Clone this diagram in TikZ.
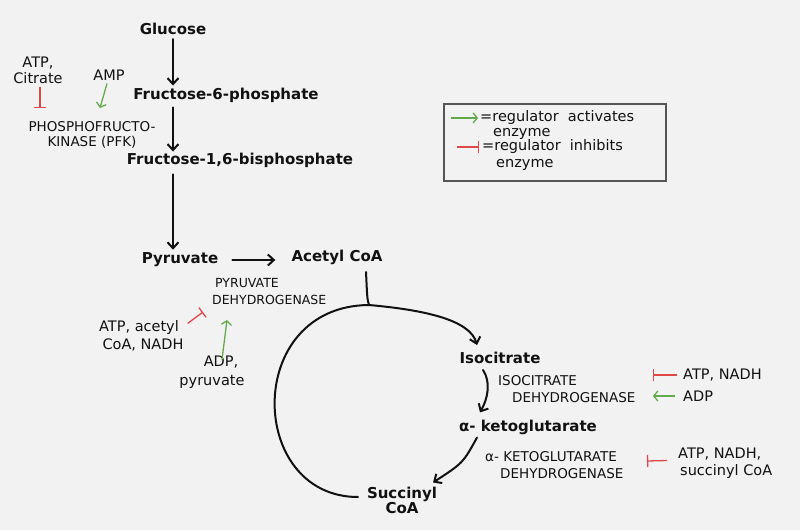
\documentclass[tikz,border=0pt]{standalone}
\usepackage{fontspec}
\setmainfont{DejaVu Sans}
\usetikzlibrary{arrows.meta}
\definecolor{bg}{HTML}{F2F2F2}
\definecolor{inkc}{HTML}{111111}
\definecolor{redc}{HTML}{E04848}
\definecolor{greenc}{HTML}{62AA4A}
\definecolor{boxc}{HTML}{555555}
\tikzset{
  met/.style={font=\bfseries\fontsize{15}{15}\selectfont, text=inkc, inner sep=0pt},
  capt/.style={font=\fontsize{13.5}{17}\selectfont, text=inkc, inner sep=0pt},
  lct/.style={font=\fontsize{14.5}{16}\selectfont, text=inkc, inner sep=0pt},
  flow/.style={draw=inkc, line width=2pt, line cap=round, -{Straight Barb[length=6pt,width=11pt]}},
  plain/.style={draw=inkc, line width=2pt, line cap=round},
  inh/.style={draw=redc, line width=1.3pt, -{Bar[width=12pt,line width=1.3pt]}},
  act/.style={draw=greenc, line width=1.3pt, -{Straight Barb[length=4pt,width=10pt,line width=1.3pt]}},
}
\begin{document}
\begin{tikzpicture}[x=1pt,y=-1pt]
\useasboundingbox (0,0) rectangle (800,530);
\fill[bg] (0,0) rectangle (800,530);

% metabolites
\node[met] (glc) at (173,29) {Glucose};
\node[met] (f6p) at (226,95) {Fructose-6-phosphate};
\node[met] (f16) at (240,160) {Fructose-1,6-bisphosphate};
\node[met] (pyr) at (180,260) {Pyruvate};
\node[met] (acoa) at (337,257) {Acetyl CoA};
\node[met] (iso) at (500,358) {Isocitrate};
\node[met] (akg) at (528,427) {α- ketoglutarate};
\node[met, align=center] (scoa) at (402,500) {Succinyl\\CoA};

% main flow
\draw[flow, shorten <=4pt, shorten >=2pt] (glc.south) -- (glc.south |- f6p.north);
\draw[flow, shorten <=5pt, shorten >=1pt] (f6p.south -| glc.south) -- (f16.north -| glc.south);
\draw[flow, shorten <=7pt, shorten >=3pt] (f16.south -| glc.south) -- (pyr.north -| glc.south);
\draw[flow, shorten <=14pt, shorten >=16pt] (pyr.east) -- (pyr.east -| acoa.west);

\coordinate (atop) at (366,272);
\coordinate (br) at (369,305);
\coordinate (isotip) at (477,345);
\coordinate (lend) at (358,497);
\draw[plain] (atop) .. controls (367,292) and (367,300) .. (br);
\draw[flow] (br) .. controls (425,310) and (470,320) .. (isotip);
\draw[plain] (br) .. controls (243,306) and (247,497) .. (lend);
\draw[flow] ([xshift=-17pt,yshift=-6pt]iso.south) .. controls (491,382) and (488,398) .. ([xshift=-48pt,yshift=7pt]akg.north);
\draw[flow] ([xshift=-51pt,yshift=-3pt]akg.south) .. controls (463,463) .. ([xshift=31pt,yshift=4pt]scoa.north);

% PFK
\node[capt, align=center, font=\fontsize{13.5}{15}\selectfont] (pfk) at (92,134.5) {PHOSPHOFRUCTO-\\KINASE (PFK)};
\node[lct, align=center] (atpc) at (38,70) {ATP,\\Citrate};
\node[lct] (amp) at (109,75) {AMP};
\coordinate (pfkbar) at (40,108);
\coordinate (pfkact) at (100,108);
\draw[inh] ([xshift=2pt,yshift=-3pt]atpc.south) -- (pfkbar);
\draw[act] ([xshift=-2pt,yshift=-3pt]amp.south) -- (pfkact);

% PDH
\node[capt, align=left, anchor=west, font=\fontsize{12.5}{17}\selectfont] (pdh) at (212,291.5) {\hspace{3pt}PYRUVATE\\DEHYDROGENASE};
\node[lct, align=center, font=\fontsize{14.5}{18}\selectfont] (atpa) at (139,336) {ATP, acetyl\\\hspace{8pt}CoA, NADH};
\node[lct, align=center, font=\fontsize{14.5}{19}\selectfont] (adp1) at (212,372) {\hspace{18pt}ADP,\\pyruvate};
\coordinate (pdhbar) at (203,312);
\coordinate (pdhact) at (227,320);
\draw[inh] ([xshift=4pt,yshift=-3pt]atpa.north east) -- (pdhbar);
\draw[act] ([xshift=10pt,yshift=-4pt]adp1.north) -- (pdhact);

% IDH
\node[capt, align=left, anchor=west] (idh) at (498,389) {ISOCITRATE\\\hspace{14pt}DEHYDROGENASE};
\node[lct, anchor=west] (atpn1) at (683,375) {ATP, NADH};
\node[lct, anchor=west] (adp2) at (683,396) {ADP};
\coordinate (idhbar) at (653,375);
\coordinate (idhact) at (653,396);
\draw[inh] ([xshift=-6pt]atpn1.west) -- (idhbar);
\draw[act] ([xshift=-8pt]adp2.west) -- (idhact);

% KGDH
\node[capt, align=left, anchor=west] (kgdh) at (485,465.5) {α- KETOGLUTARATE\\\hspace{15pt}DEHYDROGENASE};
\node[lct, align=left, anchor=west, font=\fontsize{14.5}{17}\selectfont] (atpn2) at (678,463.5) {ATP, NADH,\\\hspace{2pt}succinyl CoA};
\coordinate (kgbar) at (647,461);
\draw[inh] ([xshift=-11pt,yshift=3pt]atpn2.west) -- (kgbar);

% legend
\node[draw=boxc, line width=1.5pt, minimum width=222pt, minimum height=77pt, anchor=north west, inner sep=0pt] (legend) at (443,103) {};
\node[lct, align=left, anchor=west, font=\fontsize{14.5}{15}\selectfont] (leg1) at (480,124.5) {=regulator\ \ activates\\\hspace{13pt}enzyme};
\node[lct, align=left, anchor=west, font=\fontsize{14.5}{17}\selectfont] (leg2) at (482,154.5) {=regulator\ \ inhibits\\\hspace{14pt}enzyme};
\coordinate (l1s) at (451,118);
\coordinate (l2s) at (457,147);
\draw[act] (l1s) -- ([xshift=-2pt]leg1.west |- l1s);
\draw[inh] (l2s) -- ([xshift=-3pt]leg2.west |- l2s);
\end{tikzpicture}
\end{document}
